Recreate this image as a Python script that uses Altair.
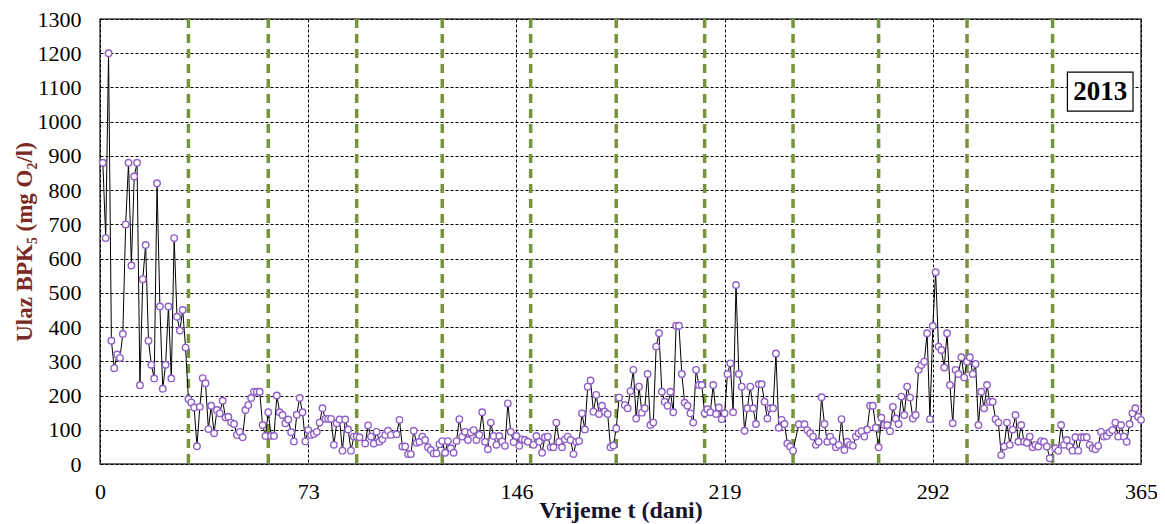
import altair as alt
import pandas as pd

# ---- data ----
days = [1, 2, 3, 4, 5, 6, 7, 8, 9, 10, 11, 12, 13, 14, 15, 16, 17, 18, 19, 20,
        21, 22, 23, 24, 25, 26, 27, 28, 29, 30, 31, 32, 33, 34, 35, 36, 37, 38, 39, 40,
        41, 42, 43, 44, 45, 46, 47, 48, 49, 50, 51, 52, 53, 54, 55, 56, 57, 58, 59, 60,
        61, 62, 63, 64, 65, 66, 67, 68, 69, 70, 71, 72, 73, 74, 75, 76, 77, 78, 79, 80,
        81, 82, 83, 84, 85, 86, 87, 88, 89, 90, 91, 93, 94, 95, 96, 97, 98, 99, 100, 101,
        102, 104, 105, 106, 107, 108, 109, 110, 111, 112, 113, 114, 115, 116, 117, 118, 119, 120, 121, 122,
        123, 124, 125, 126, 127, 128, 129, 130, 131, 132, 133, 134, 135, 136, 137, 138, 139, 140, 141, 142,
        143, 144, 145, 146, 147, 148, 149, 150, 152, 153, 154, 155, 156, 157, 158, 159, 160, 161, 162, 163,
        164, 165, 166, 167, 168, 169, 170, 171, 172, 173, 174, 175, 176, 177, 178, 179, 180, 181, 182, 184,
        185, 186, 187, 188, 189, 190, 191, 192, 193, 194, 195, 196, 197, 198, 199, 200, 201, 202, 203, 204,
        205, 206, 207, 208, 209, 210, 211, 212, 213, 214, 215, 216, 217, 218, 219, 220, 221, 222, 223, 224,
        225, 226, 227, 228, 229, 230, 231, 232, 233, 234, 235, 236, 237, 238, 239, 240, 241, 242, 243, 245,
        247, 248, 249, 250, 251, 252, 253, 254, 255, 256, 257, 258, 259, 260, 261, 262, 263, 264, 265, 266,
        267, 268, 269, 270, 271, 272, 273, 274, 275, 276, 277, 278, 279, 280, 281, 282, 283, 284, 285, 286,
        287, 288, 289, 290, 291, 292, 293, 294, 295, 296, 297, 298, 299, 300, 301, 302, 303, 304, 305, 306,
        307, 308, 309, 310, 311, 312, 313, 314, 315, 316, 317, 318, 319, 320, 321, 322, 323, 324, 325, 326,
        327, 328, 329, 330, 331, 332, 333, 335, 336, 337, 338, 339, 340, 341, 342, 343, 344, 345, 346, 347,
        348, 349, 350, 351, 352, 353, 354, 355, 356, 357, 358, 359, 360, 361, 362, 363, 364, 365]

bpk5 = [880, 660, 1200, 360, 280, 320, 310, 380, 700, 880, 580, 840, 880, 230, 540, 640, 360, 290, 250, 820,
        460, 220, 290, 460, 250, 660, 430, 390, 450, 340, 190, 180, 165, 52, 167, 251, 236, 102, 170, 90,
        158, 148, 185, 136, 138, 121, 117, 85, 94, 78, 158, 172, 193, 211, 211, 211, 114, 82, 151, 82,
        82, 200, 151, 143, 119, 130, 93, 66, 144, 193, 151, 66, 99, 85, 88, 94, 121, 163, 132, 132,
        132, 56, 119, 130, 39, 130, 101, 39, 80, 80, 78, 60, 113, 80, 60, 94, 65, 72, 85, 97,
        85, 87, 129, 51, 51, 29, 29, 97, 62, 65, 80, 70, 49, 41, 31, 31, 58, 67, 33, 67,
        46, 33, 67, 131, 80, 94, 70, 92, 99, 70, 85, 151, 65, 43, 121, 82, 56, 82, 66, 53,
        177, 94, 64, 82, 53, 72, 70, 65, 56, 82, 65, 33, 78, 80, 49, 49, 121, 65, 49, 72,
        80, 70, 29, 65, 67, 148, 101, 226, 244, 153, 202, 146, 170, 153, 146, 49, 54, 104, 194, 172,
        163, 213, 275, 133, 226, 150, 163, 263, 114, 121, 343, 382, 211, 182, 170, 211, 151, 404, 404, 263,
        179, 170, 148, 121, 275, 231, 231, 148, 160, 151, 231, 146, 165, 131, 148, 263, 294, 151, 523, 263,
        226, 97, 163, 226, 163, 117, 233, 233, 182, 133, 163, 163, 323, 106, 129, 117, 60, 51, 39, 116,
        116, 99, 90, 80, 56, 65, 195, 117, 65, 80, 67, 49, 56, 131, 41, 65, 56, 53, 80, 90,
        96, 80, 101, 170, 170, 106, 49, 135, 114, 114, 96, 167, 133, 117, 197, 143, 226, 194, 133, 143,
        275, 289, 299, 382, 131, 403, 560, 343, 333, 282, 382, 231, 119, 275, 263, 312, 253, 299, 312, 263,
        292, 114, 211, 163, 231, 182, 182, 131, 121, 26, 51, 121, 56, 101, 143, 65, 114, 65, 62, 80,
        49, 56, 51, 67, 65, 51, 17, 46, 39, 114, 56, 70, 51, 39, 78, 39, 78, 78, 78, 56,
        46, 43, 53, 94, 80, 82, 92, 99, 121, 80, 114, 80, 65, 117, 148, 163, 138, 129]

month_starts = [31, 59, 90, 120, 151, 181, 212, 243, 273, 304, 334]
x_ticks = [0, 73, 146, 219, 292, 365]
y_ticks = list(range(0, 1301, 100))
year_label = ["2013"]

df = pd.DataFrame({"t": days, "v": bpk5})
months = pd.DataFrame({"t": month_starts})
ann = pd.DataFrame({"t": [339.2], "t2": [362.2], "v": [1031], "v2": [1145],
                    "tc": [350.7], "vc": [1086], "label": year_label})

FONT = "Liberation Serif"

xscale = alt.Scale(domain=[0, 365], nice=False, zero=False)
yscale = alt.Scale(domain=[0, 1300], nice=False, zero=True)

x_axis = alt.Axis(
    values=x_ticks, title="Vrijeme t (dani)", grid=True, gridDash=[3, 2],
    gridColor="black", gridWidth=1, gridOpacity=1, ticks=False, domain=False,
    labelFont=FONT, labelFontSize=22, labelColor="black", labelPadding=17,
    labelFlush=False, format="d", titleFont=FONT, titleFontSize=24,
    titleFontWeight="bold", titleColor="#14142b", titlePadding=-4)
y_axis = alt.Axis(
    values=y_ticks, title="Ulaz BPK\u2085 (mg O\u2082/l)", grid=True, gridDash=[3, 2],
    gridColor="black", gridWidth=1, gridOpacity=1, ticks=False, domain=False,
    labelFont=FONT, labelFontSize=22, labelColor="black", labelPadding=19,
    labelFlush=False, labelOverlap=False, format="d", titleFont=FONT,
    titleFontSize=23, titleFontWeight="bold", titleColor="#7a2a24", titlePadding=1)

base = alt.Chart(df)

line = base.mark_line(color="black", strokeWidth=1).encode(
    x=alt.X("t:Q", scale=xscale, axis=x_axis),
    y=alt.Y("v:Q", scale=yscale, axis=y_axis))

rules = alt.Chart(months).mark_rule(
    color="#77933c", strokeWidth=3.5, strokeDash=[9, 6]
).encode(x=alt.X("t:Q", scale=xscale, axis=x_axis))

pts = base.mark_point(shape="circle", filled=True, fill="white", stroke="#9060c8",
                      strokeWidth=1.4, size=42, opacity=1).encode(
    x=alt.X("t:Q", scale=xscale, axis=x_axis),
    y=alt.Y("v:Q", scale=yscale, axis=y_axis))

box = alt.Chart(ann).mark_rect(fill="white", stroke="black", strokeWidth=1.2).encode(
    x=alt.X("t:Q", scale=xscale, axis=x_axis), x2="t2:Q",
    y=alt.Y("v:Q", scale=yscale, axis=y_axis), y2="v2:Q")

txt = alt.Chart(ann).mark_text(font=FONT, fontSize=27, fontWeight="bold", color="black",
                               align="center", baseline="middle").encode(
    x=alt.X("tc:Q", scale=xscale, axis=x_axis),
    y=alt.Y("vc:Q", scale=yscale, axis=y_axis),
    text="label:N")

chart = alt.layer(rules, line, pts, box, txt).properties(
    width=1041, height=445,
    background="white",
    autosize=alt.AutoSizeParams(type="none"),
    padding={"left": 92, "top": 11, "right": 16, "bottom": 70},
).configure_view(stroke="#404040", strokeWidth=1.5)

chart.save("out.html", embed_options={"renderer": "svg", "actions": False})
